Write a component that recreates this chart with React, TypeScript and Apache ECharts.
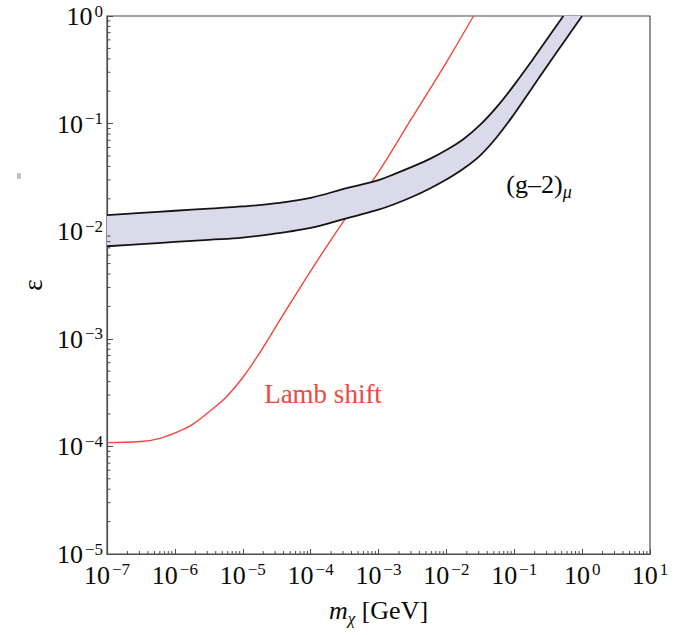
import React, { useEffect, useRef } from "react";
import * as echarts from "echarts";

// Axis ranges
const X_MIN = 1e-7;
const X_MAX = 10;
const Y_MIN = 1e-5;
const Y_MAX = 1;

// (g-2)_mu band, upper edge: log10(m [GeV]) and log10(eps)
const upperLogM = [-7, -6.5, -6, -5.5, -5, -4.5, -4, -3.5, -3, -2.75, -2.5, -2.25, -2, -1.75, -1.5, -1.25, -1, -0.75, -0.5, -0.277];
const upperLogEps = [-1.85, -1.83, -1.81, -1.79, -1.77, -1.74, -1.69, -1.605, -1.525, -1.465, -1.4, -1.33, -1.245, -1.145, -1.01, -0.84, -0.64, -0.425, -0.2, 0];

// (g-2)_mu band, lower edge
const lowerLogM = [-7, -6.5, -6, -5.5, -5, -4.5, -4, -3.5, -3, -2.75, -2.5, -2.25, -2, -1.75, -1.5, -1.25, -1, -0.75, -0.5, -0.25, 0];
const lowerLogEps = [-2.14, -2.12, -2.1, -2.08, -2.06, -2.02, -1.97, -1.885, -1.8, -1.745, -1.68, -1.605, -1.52, -1.42, -1.295, -1.12, -0.91, -0.68, -0.45, -0.225, 0];

// Lamb shift curve
const lambLogM = [-7, -6.5, -6.25, -6, -5.75, -5.5, -5.25, -5, -4.75, -4.5, -4, -3.5, -3, -2.5, -2, -1.6];
const lambLogEps = [-3.965, -3.955, -3.93, -3.875, -3.8, -3.68, -3.545, -3.36, -3.13, -2.875, -2.37, -1.895, -1.45, -0.94, -0.43, 0];

// minor tick mantissas
const minorMantissas = [2, 3, 4, 5, 6, 7, 8, 9];
const xDecades = [-7, -6, -5, -4, -3, -2, -1, 0];
const yDecades = [-5, -4, -3, -2, -1];

const toPairs = (xs: number[], ys: number[]) =>
  xs.map((x, i) => [Math.pow(10, x), Math.pow(10, ys[i])]);

const FONT = "Liberation Serif";
const AXIS_COLOR = "#4d4d4d";
const TEXT_COLOR = "#0a0a0a";

const labelFormatter = (v: number) => {
  const e = Math.round(Math.log10(v));
  const s = e < 0 ? "\u2212" + -e : String(e);
  return `{b|10}{s|${s}}`;
};

const labelRich = {
  b: { fontFamily: FONT, fontSize: 26, lineHeight: 27, verticalAlign: "bottom", color: TEXT_COLOR },
  s: { fontFamily: FONT, fontSize: 17, lineHeight: 17, verticalAlign: "top", color: TEXT_COLOR, padding: [0, 0, 0, 2] },
};

export default function App() {
  const ref = useRef<HTMLDivElement>(null);

  useEffect(() => {
    document.body.style.margin = "0";
    if (!ref.current) return;
    const chart = echarts.init(ref.current, null, { renderer: "svg" });

    const upper = toPairs(upperLogM, upperLogEps);
    const lower = toPairs(lowerLogM, lowerLogEps);
    const lamb = toPairs(lambLogM, lambLogEps);

    const xMinor: number[][] = [];
    xDecades.forEach((d) => minorMantissas.forEach((m) => xMinor.push([m * Math.pow(10, d), Y_MIN])));
    const yMinor: number[][] = [];
    yDecades.forEach((d) => minorMantissas.forEach((m) => yMinor.push([X_MIN, m * Math.pow(10, d)])));

    const option: any = {
      animation: false,
      backgroundColor: "#ffffff",
      grid: {
        left: 107,
        top: 16,
        right: 43,
        bottom: 81,
        show: true,
        borderColor: AXIS_COLOR,
        borderWidth: 1.2,
        backgroundColor: "transparent",
      },
      xAxis: {
        type: "log",
        logBase: 10,
        min: X_MIN,
        max: X_MAX,
        splitNumber: 8,
        name: "{i|m}{sub|\u03c7}{n| [GeV]}",
        nameLocation: "middle",
        nameGap: 43,
        nameTextStyle: {
          rich: {
            i: { fontFamily: FONT, fontSize: 26, fontStyle: "italic", color: TEXT_COLOR, lineHeight: 30, verticalAlign: "top" },
            sub: { fontFamily: FONT, fontSize: 17, fontStyle: "italic", color: TEXT_COLOR, lineHeight: 17, verticalAlign: "bottom" },
            n: { fontFamily: FONT, fontSize: 26, color: TEXT_COLOR, lineHeight: 30, verticalAlign: "top" },
          },
        },
        axisLine: { show: true, lineStyle: { color: AXIS_COLOR, width: 1.2 } },
        axisTick: { show: true, inside: true, length: 5, lineStyle: { color: AXIS_COLOR, width: 1 } },
        splitLine: { show: false },
        minorTick: { show: false },
        axisLabel: {
          interval: 0,
          margin: 7,
          showMinLabel: true,
          showMaxLabel: true,
          formatter: labelFormatter,
          rich: labelRich,
        },
      },
      yAxis: {
        type: "log",
        logBase: 10,
        min: Y_MIN,
        max: Y_MAX,
        splitNumber: 5,
        name: "\u03b5",
        nameLocation: "middle",
        nameGap: 59,
        nameRotate: 90,
        nameTextStyle: { fontFamily: FONT, fontSize: 27, color: TEXT_COLOR },
        axisLine: { show: true, lineStyle: { color: AXIS_COLOR, width: 1.2 } },
        axisTick: { show: true, inside: true, length: 6, lineStyle: { color: AXIS_COLOR, width: 1 } },
        splitLine: { show: false },
        minorTick: { show: false },
        axisLabel: {
          interval: 0,
          margin: 4,
          showMinLabel: true,
          showMaxLabel: true,
          formatter: labelFormatter,
          rich: labelRich,
        },
      },
      series: [
        {
          name: "Lamb shift",
          type: "line",
          data: lamb,
          symbol: "none",
          smooth: 0.4,
          z: 2,
          lineStyle: { color: "#f0463c", width: 1.4 },
          silent: true,
        },
        {
          name: "band",
          type: "custom",
          coordinateSystem: "cartesian2d",
          data: [[X_MIN, 1e-2]],
          z: 3,
          silent: true,
          renderItem: (_params: any, api: any) => {
            const pts: number[][] = [];
            upper.forEach((p) => pts.push(api.coord(p)));
            for (let i = lower.length - 1; i >= 0; i--) pts.push(api.coord(lower[i]));
            return {
              type: "polygon",
              shape: { points: pts },
              style: { fill: "#dadaea", stroke: "none" },
            };
          },
        },
        {
          name: "upper",
          type: "line",
          data: upper,
          symbol: "none",
          smooth: 0.4,
          z: 4,
          lineStyle: { color: "#141414", width: 1.8 },
          silent: true,
        },
        {
          name: "lower",
          type: "line",
          data: lower,
          symbol: "none",
          smooth: 0.4,
          z: 4,
          lineStyle: { color: "#141414", width: 1.8 },
          silent: true,
        },
        {
          name: "xMinor",
          type: "custom",
          coordinateSystem: "cartesian2d",
          data: xMinor,
          z: 5,
          silent: true,
          clip: false,
          renderItem: (_params: any, api: any) => {
            const p = api.coord([api.value(0), api.value(1)]);
            return {
              type: "line",
              shape: { x1: p[0], y1: p[1], x2: p[0], y2: p[1] - 3 },
              style: { stroke: AXIS_COLOR, lineWidth: 1 },
            };
          },
        },
        {
          name: "yMinor",
          type: "custom",
          coordinateSystem: "cartesian2d",
          data: yMinor,
          z: 5,
          silent: true,
          clip: false,
          renderItem: (_params: any, api: any) => {
            const p = api.coord([api.value(0), api.value(1)]);
            return {
              type: "line",
              shape: { x1: p[0], y1: p[1], x2: p[0] + 3.5, y2: p[1] },
              style: { stroke: AXIS_COLOR, lineWidth: 1 },
            };
          },
        },
      ],
      graphic: [
        {
          type: "text",
          x: 323,
          y: 394,
          silent: true,
          style: {
            text: "Lamb shift",
            fontFamily: FONT,
            fontSize: 27,
            fill: "#ec4a3e",
            align: "center",
            verticalAlign: "middle",
          },
        },
        {
          type: "text",
          x: 539,
          y: 186,
          silent: true,
          style: {
            text: "{a|(g\u20132)}{b|\u03bc}",
            align: "center",
            verticalAlign: "middle",
            rich: {
              a: { fontFamily: FONT, fontSize: 26, lineHeight: 30, verticalAlign: "top", fill: TEXT_COLOR },
              b: { fontFamily: FONT, fontSize: 18, fontStyle: "italic", lineHeight: 18, verticalAlign: "bottom", fill: TEXT_COLOR },
            },
          },
        },
        {
          type: "rect",
          silent: true,
          shape: { x: 17, y: 173, width: 4, height: 6 },
          style: { fill: "#c4c4c4" },
        },
      ],
    };

    chart.setOption(option);
    return () => chart.dispose();
  }, []);

  return <div ref={ref} style={{ width: 693, height: 635 }} />;
}
